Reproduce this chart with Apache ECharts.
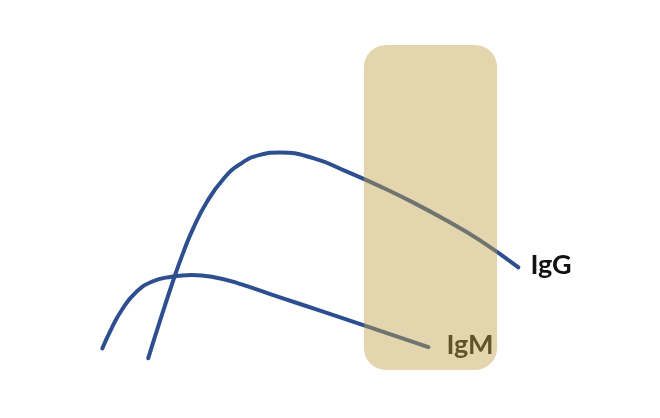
<!DOCTYPE html>
<html>
<head>
<meta charset="utf-8">
<script src="https://cdn.jsdelivr.net/npm/echarts@6/dist/echarts.min.js"></script>
<style>html,body{margin:0;padding:0;background:#fff}#c{width:660px;height:418px}</style>
</head>
<body>
<div id="c"></div>
<script>
// Antibody response over time (arbitrary units)
const seriesNames = ['IgM', 'IgG'];
const igmTime  = [3.41, 3.72, 4.06, 4.50, 5.06, 5.72, 6.39, 7.06, 7.94, 9.28, 10.72, 12.06, 14.28];
const igmLevel = [0.72, 1.39, 2.00, 2.56, 2.94, 3.11, 3.17, 3.11, 2.89, 2.44, 1.96, 1.51, 0.76];
const iggTime  = [4.94, 5.33, 5.78, 6.11, 6.44, 6.89, 7.44, 8.00, 8.67, 9.33, 10.44, 11.56, 12.67, 13.78, 14.89, 16.00, 17.28];
const iggLevel = [0.39, 1.63, 3.00, 3.92, 4.72, 5.59, 6.36, 6.86, 7.17, 7.25, 7.06, 6.61, 6.12, 5.58, 4.98, 4.32, 3.42];
// highlighted window: [timeStart, timeEnd, levelLow, levelHigh]
const windowRange = [12.13, 16.57, 0, 10.83];

const zip = (a, b) => a.map((v, i) => [v, b[i]]);
const lineColor = '#2e4f8f';

const chart = echarts.init(document.getElementById('c'), null, {renderer: 'canvas'});
chart.setOption({
  animation: false,
  backgroundColor: '#ffffff',
  grid: {left: 0, right: 0, top: 10, bottom: 48},
  xAxis: {type: 'value', min: 0, max: 22, show: false},
  yAxis: {type: 'value', min: 0, max: 12, show: false},
  series: [
    {
      name: seriesNames[0], type: 'line', z: 2, smooth: 0.5, symbol: 'none',
      data: zip(igmTime, igmLevel),
      lineStyle: {color: lineColor, width: 4, cap: 'round'},
      endLabel: {show: true, formatter: '{a}', distance: 18, color: '#111', offset: [0, -2],
        fontFamily: 'Lato', fontWeight: 'bold', fontSize: 27}
    },
    {
      name: seriesNames[1], type: 'line', z: 2, smooth: 0.5, symbol: 'none',
      data: zip(iggTime, iggLevel),
      lineStyle: {color: lineColor, width: 4, cap: 'round'},
      endLabel: {show: true, formatter: '{a}', distance: 12, color: '#111', offset: [0, -2],
        fontFamily: 'Lato', fontWeight: 'bold', fontSize: 27}
    },
    {
      type: 'custom', z: 10, silent: true,
      data: [windowRange],
      renderItem: function (params, api) {
        const p1 = api.coord([api.value(0), api.value(3)]);
        const p2 = api.coord([api.value(1), api.value(2)]);
        return {
          type: 'rect',
          shape: {x: p1[0], y: p1[1], width: p2[0] - p1[0], height: p2[1] - p1[1], r: 22},
          style: {fill: 'rgba(193,162,75,0.45)'}
        };
      }
    }
  ]
});
</script>
</body>
</html>
